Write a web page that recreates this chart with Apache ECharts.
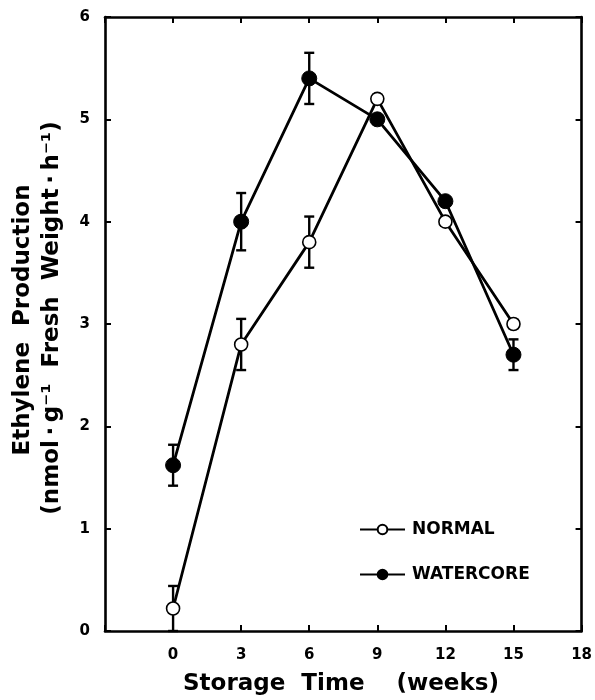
<!DOCTYPE html>
<html>
<head>
<meta charset="utf-8">
<script src="https://cdn.jsdelivr.net/npm/echarts@6/dist/echarts.min.js"></script>
<style>
  html, body { margin: 0; padding: 0; background: #fff; }
  #chart { width: 595px; height: 700px; }
</style>
</head>
<body>
<div id="chart"></div>
<script>
// Storage time (weeks) at which ethylene was measured
const weeks = [0, 3, 6, 9, 12, 15];
// Ethylene production, nmol g^-1 fresh weight h^-1
const normal = [0.22, 2.8, 3.8, 5.2, 4.0, 3.0];
const watercore = [1.62, 4.0, 5.4, 5.0, 4.2, 2.7];
// Standard errors (half-length of each error bar)
const normalErr = [0.22, 0.25, 0.25, 0.04, 0.04, 0.04];
const watercoreErr = [0.2, 0.28, 0.25, 0.04, 0.04, 0.15];
// Axis tick labels
const xTicks = [0, 3, 6, 9, 12, 15, 18];
const yTicks = [0, 1, 2, 3, 4, 5, 6];

const FONT = 'DejaVu Sans';

function pairs(ys) { return weeks.map((w, i) => [w, ys[i]]); }
function errRows(ys, es) { return weeks.map((w, i) => [w, Math.max(0, ys[i] - es[i]), ys[i] + es[i]]); }

function renderErr(params, api) {
  const x = api.value(0);
  const lo = api.coord([x, api.value(1)]);
  const hi = api.coord([x, api.value(2)]);
  const w = 5;
  const st = { stroke: '#000', lineWidth: 2.4 };
  return {
    type: 'group',
    children: [
      { type: 'line', shape: { x1: hi[0], y1: hi[1], x2: lo[0], y2: lo[1] }, style: st },
      { type: 'line', shape: { x1: hi[0] - w, y1: hi[1], x2: hi[0] + w, y2: hi[1] }, style: st },
      { type: 'line', shape: { x1: lo[0] - w, y1: lo[1], x2: lo[0] + w, y2: lo[1] }, style: st }
    ]
  };
}

const axisLine = { show: true, onZero: false, lineStyle: { color: '#000', width: 2.6 } };
const axisTick = { show: true, inside: true, length: 6, lineStyle: { color: '#000', width: 2 } };
const xMin = -3, xMax = 18;

const chart = echarts.init(document.getElementById('chart'), null, { renderer: 'canvas' });
chart.setOption({
  animation: false,
  backgroundColor: '#fff',
  grid: { left: 105, right: 13, top: 17, bottom: 69 },
  xAxis: [
    {
      type: 'value', min: xMin, max: xMax, interval: 3, position: 'bottom',
      axisLine, axisTick, splitLine: { show: false },
      axisLabel: {
        margin: 17, color: '#000', fontFamily: FONT, fontWeight: 'bold', fontSize: 15,
        formatter: v => (xTicks.indexOf(v) >= 0 ? String(v) : '')
      }
    },
    {
      type: 'value', min: xMin, max: xMax, interval: 3, position: 'top',
      axisLine, axisTick, splitLine: { show: false }, axisLabel: { show: false }
    }
  ],
  yAxis: [
    {
      type: 'value', min: 0, max: 6, interval: 1, position: 'left',
      axisLine, axisTick, splitLine: { show: false },
      axisLabel: {
        margin: 15, color: '#000', fontFamily: FONT, fontWeight: 'bold', fontSize: 15,
        formatter: v => (yTicks.indexOf(v) >= 0 ? String(v) : '')
      }
    },
    {
      type: 'value', min: 0, max: 6, interval: 1, position: 'right',
      axisLine, axisTick, splitLine: { show: false }, axisLabel: { show: false }
    }
  ],
  legend: {
    orient: 'vertical', left: 354, top: 516, itemGap: 28,
    itemWidth: 45, itemHeight: 12,
    textStyle: { color: '#000', fontFamily: FONT, fontWeight: 'bold', fontSize: 17, padding: [0, 0, 0, 2] },
    data: ['NORMAL', 'WATERCORE']
  },
  graphic: [
    {
      type: 'text', x: 23, y: 320, rotation: Math.PI / 2,
      style: {
        text: 'Ethylene  Production', fill: '#000',
        font: 'bold 23px "DejaVu Sans"', textAlign: 'center', textVerticalAlign: 'middle'
      }
    },
    {
      type: 'text', x: 52, y: 318, rotation: Math.PI / 2,
      style: {
        text: '(nmol\u2009·\u2009g\u207B\u00B9  Fresh  Weight\u2009·\u2009h\u207B\u00B9)', fill: '#000',
        font: 'bold 23px "DejaVu Sans"', textAlign: 'center', textVerticalAlign: 'middle'
      }
    },
    {
      type: 'text', x: 341, y: 684,
      style: {
        text: 'Storage  Time    (weeks)', fill: '#000',
        font: 'bold 23px "DejaVu Sans"', textAlign: 'center', textVerticalAlign: 'middle'
      }
    }
  ],
  series: [
    {
      name: 'NORMAL err', type: 'custom', renderItem: renderErr, z: 1,
      encode: { x: 0, y: [1, 2] }, data: errRows(normal, normalErr), silent: true
    },
    {
      name: 'WATERCORE err', type: 'custom', renderItem: renderErr, z: 1,
      encode: { x: 0, y: [1, 2] }, data: errRows(watercore, watercoreErr), silent: true
    },
    {
      name: 'NORMAL', type: 'line', data: pairs(normal), z: 3,
      symbol: 'circle', symbolSize: 13,
      lineStyle: { color: '#000', width: 2.8 },
      itemStyle: { color: '#fff', borderColor: '#000', borderWidth: 1.6 }
    },
    {
      name: 'WATERCORE', type: 'line', data: pairs(watercore), z: 4,
      symbol: 'circle', symbolSize: 15,
      lineStyle: { color: '#000', width: 2.8 },
      itemStyle: { color: '#000', borderColor: '#000', borderWidth: 1 }
    }
  ]
});
</script>
</body>
</html>
